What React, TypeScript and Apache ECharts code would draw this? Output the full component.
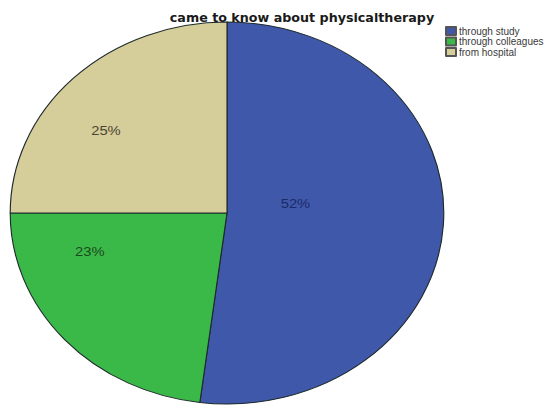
import React, { useEffect, useRef } from "react";
import * as echarts from "echarts";

const categories = ["through study", "through colleagues", "from hospital"];
const percents = [52, 23, 25];
const colors = ["#3f58aa", "#3bb948", "#d5cd9a"];
const labelColors = ["#1c2a6a", "#1b4a20", "#4a4430"];
const titleText = "came to know about physicaltherapy";

export default function App() {
  const pieRef = useRef<HTMLDivElement>(null);
  const topRef = useRef<HTMLDivElement>(null);

  useEffect(() => {
    const pie = echarts.init(pieRef.current!, null, { renderer: "svg", width: 545, height: 410 });
    const top = echarts.init(topRef.current!, null, { renderer: "svg", width: 545, height: 410 });
    const nudges = [
      [-38, -16],
      [-47, -27],
      [-37, -13],
    ];
    pie.setOption({
      animation: false,
      series: [
        {
          type: "pie",
          center: [227, 213],
          radius: 191,
          startAngle: 90,
          clockwise: true,
          label: {
            show: true,
            position: "inside",
            formatter: "{c}%",
            fontFamily: "Liberation Sans",
            fontSize: 13,
          },
          labelLayout: (p: any) => ({ dx: nudges[p.dataIndex][0], dy: nudges[p.dataIndex][1] }),
          itemStyle: { borderColor: "#1e2a2a", borderWidth: 1 },
          emphasis: { disabled: true },
          data: categories.map((name, i) => ({
            name,
            value: percents[i],
            itemStyle: { color: colors[i] },
            label: { color: labelColors[i] },
          })),
        },
      ],
    });
    top.setOption({
      animation: false,
      title: {
        text: titleText,
        left: 297,
        textAlign: "center",
        top: 6,
        textStyle: { fontFamily: "DejaVu Sans", fontSize: 12.7, fontWeight: "bold", color: "#1a1a1a" },
      },
      legend: {
        orient: "vertical",
        left: 445,
        top: 26,
        padding: 0,
        itemWidth: 10,
        itemHeight: 8,
        itemGap: 0.5,
        icon: "rect",
        data: categories,
        textStyle: { fontFamily: "Liberation Sans", fontSize: 10, color: "#3a3a3a", padding: [0, 0, 0, -2] },
      },
      series: [
        {
          type: "pie",
          radius: 0,
          center: [-100, -100],
          label: { show: false },
          data: categories.map((name, i) => ({
            name,
            value: percents[i],
            itemStyle: { color: colors[i], borderColor: "#555", borderWidth: 0.6 },
          })),
        },
      ],
    });
    return () => {
      pie.dispose();
      top.dispose();
    };
  }, []);

  return (
    <div style={{ position: "absolute", left: 0, top: 0, width: 545, height: 410, background: "#fff", overflow: "hidden" }}>
      <div
        ref={pieRef}
        style={{
          position: "absolute",
          left: 0,
          top: 0,
          width: 545,
          height: 410,
          transform: "scaleX(1.135)",
          transformOrigin: "227px 213px",
        }}
      />
      <div ref={topRef} style={{ position: "absolute", left: 0, top: 0, width: 545, height: 410 }} />
    </div>
  );
}
